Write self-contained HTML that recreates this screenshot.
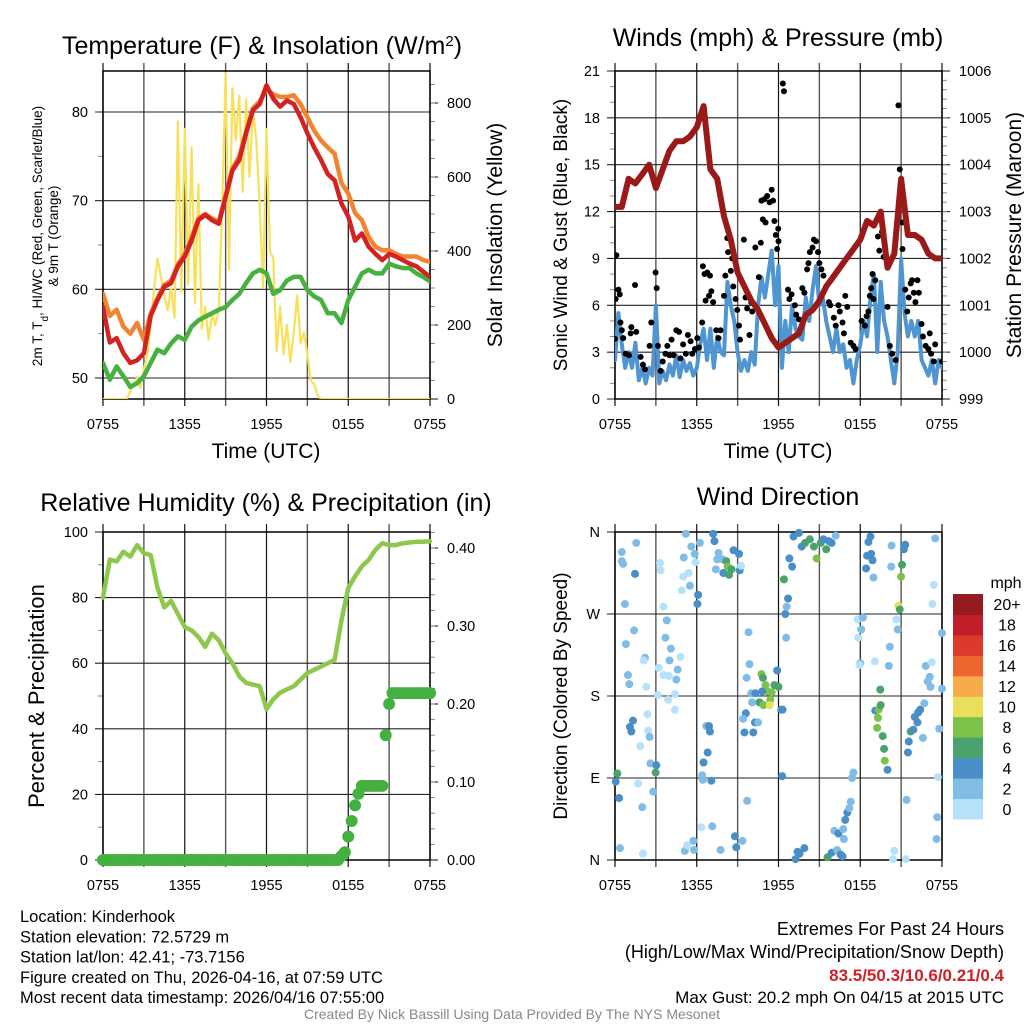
<!DOCTYPE html>
<html><head><meta charset="utf-8">
<style>
html,body{margin:0;padding:0;background:#fff;}
svg{display:block;font-family:"Liberation Sans",Arial,sans-serif;}
</style></head>
<body>
<svg id="c" width="1024" height="1024" viewBox="0 0 1024 1024"></svg>
<script>
// ---------- DATA ----------
const xTickLabels = ["0755","1355","1955","0155","0755"];
const tempRed = [58,54,54.5,52.8,51.7,52,52.8,57,58.8,60.3,60.7,62.6,63.7,65.5,67.8,68.4,67.8,67.4,70.4,73.4,74.6,77.6,80.2,80.9,83,81.5,80.6,81.3,80.9,79.4,77.6,76,74.6,73,72.3,69.7,68.2,65.5,66.3,64.8,64,63.3,64,63.7,63.3,62.9,62.6,62,61.4];
const temp9m = [59.5,57,57.7,55.8,55,56.2,54.3,57.3,59,60.5,61,62.8,64,65.8,68,68.5,68,67.6,70.6,73.6,75,77.8,80.4,81.2,82.5,82,81.7,81.7,81.9,80.9,79.4,77.9,76.8,76,75.3,72,70.8,68.6,67.8,65.9,64.8,64.4,64.4,64,63.7,63.7,63.7,63.3,63.1];
const dewGreen = [51.7,49.8,51.3,50.2,49,49.4,50.2,51.7,53.2,52.8,53.9,54.7,54.3,55.8,56.5,56.9,57.3,57.7,58,58.8,59.5,60.7,61.8,62.2,61.8,59.5,59.9,61,61.4,61.4,59.9,59.2,58.8,57.3,57.3,56.2,58.8,60.3,61.8,62.2,61.8,61.8,62.9,62.6,62.4,62.4,61.8,61.4,60.9];
const solar = [0,0,0,0,0,0,0,0,
20,40,60,30,80,120,200,300,380,330,
280,240,300,220,750,290,730,310,680,260,
580,190,250,160,230,200,240,520,880,350,
840,700,820,560,810,600,780,700,520,300,
730,400,380,130,250,120,200,100,180,280,
150,180,120,50,40,10,0,
0,0,0,0,0,0,0,0,0,0,0,0,0,0,0,0,
0,0,0,0,0,0,0,0,0,0,0,0,0,0,0,0];
const pressure = [1003.1,1003.1,1003.7,1003.6,1003.8,1004.0,1003.5,1003.9,1004.3,1004.5,1004.5,1004.6,1004.8,1005.25,1003.9,1003.7,1002.9,1002.4,1001.7,1001.4,1001.1,1000.9,1000.6,1000.3,1000.1,1000.2,1000.3,1000.4,1000.8,1000.9,1001.1,1001.4,1001.6,1001.8,1002.0,1002.2,1002.4,1002.8,1002.7,1003.0,1001.8,1002.1,1003.7,1002.5,1002.5,1002.4,1002.1,1002.0,1002.0];
const wind = [2.5,5.5,3.5,2, 3,2,3.6,1.2, 2,1.0,2.0,1.5, 6.0,1.0,1.8,1.2, 2.2,1.5,2.8,1.4, 2.5,1.8,2.3,1.5, 2.0,3.5,4.5,2.5, 4.5,2.0,4.0,3.0, 2.8,7.5,6.0,5.0, 3.0,1.8,2.5,1.8, 3.0,2.2,6.0,7.8, 6.5,8.0,9.5,6.0, 8.5,2.0,5.0,3.0, 6.0,4.5,4.0,3.8, 6.5,5.0,7.0,8.5, 6.0,6.5,5.0,4.0, 3.0,4.5,3.0,3.5, 2.0,2.5,1.0,2.5, 3.5,5.0,4.0,6.5, 8.0,3.0,7.5,5.0, 4.0,2.5,1.0,3.0, 9.0,5.5,4.0,5.0, 4.0,5.0,2.5,2.0, 1.5,2.5,1.0,2.5, 2.0];
const gustHours = [0,0.05,0.1,0.25,0.35,0.4,0.5,0.6,0.78,1.03,1.15,1.2,1.47,1.56,1.88,2.05,2.2,2.54,2.66,2.98,3.06,3.15,3.35,3.5,3.7,3.84,4.0,4.15,4.3,4.5,4.7,4.8,5.0,5.2,5.35,5.55,5.67,5.87,6.04,6.16,6.4,6.45,6.57,6.65,6.77,6.9,6.97,7.07,7.2,7.43,7.6,7.75,8,8.1,8.24,8.3,8.5,8.6,8.68,8.85,8.97,9.1,9.17,9.46,9.58,9.7,9.87,10.0,10.07,10.3,10.56,10.7,10.75,10.85,10.97,11.05,11.17,11.35,11.5,11.6,11.7,11.8,11.98,12.0,11.9,12.32,12.4,12.7,12.8,12.96,13.2,13.3,13.5,13.75,13.9,14.1,14.2,14.3,14.5,14.6,14.75,14.9,15.0,15.15,15.3,15.5,15.7,15.8,16.06,16.2,16.4,16.5,16.7,16.8,16.9,17.05,17.3,17.5,17.65,18.1,18.35,18.47,18.6,18.7,18.8,18.9,18.97,19.1,19.3,19.4,19.6,19.72,20,20.17,20.34,20.6,20.8,20.9,21.07,21.1,21.3,21.45,21.56,21.7,21.8,21.93,22.05,22.2,22.3,22.5,22.6,22.8,23.0,23.1,23.2,23.4,23.5,24];
const gustSpeeds = [3.85,6.4,9.2,7,6.7,4.9,4.4,3.9,2.9,2.8,4.2,4.6,7.3,4.3,2.7,2.2,1.9,3.4,4.9,8.1,7.1,3.4,1.8,2.4,2.9,3.4,2.8,3.8,2.8,4.4,4.3,2.6,3.5,2.9,4.1,3.7,2.9,3.2,3.9,3.3,4.9,8.5,8,6.3,8.1,6.6,7.9,6.9,6.2,4.4,3.9,4.4,6.6,7.9,10.3,9.4,8.2,9.0,7.2,6.4,5.7,4.7,3.8,10.2,6.5,5.8,4.1,6.2,5.6,9.7,7.8,10,12.7,11.5,12.8,11.3,13,12.6,13.4,12.7,11.4,10.5,10.9,10.1,9.6,20.2,19.7,7.0,6.4,6.7,6.0,5.4,5.1,7.1,6.8,8.3,8.7,9.4,9.7,10.2,10.1,9.4,8.7,8.3,7.9,7.2,6.2,6.0,5.2,4.7,6.0,5.6,4.9,4.2,6.6,5.9,3.6,3.4,3.2,5.0,4.7,5.3,5.6,6.6,7.1,8.0,6.4,7.6,10.4,9.5,10.7,9.1,5.9,3.4,2.9,2.5,18.8,14.7,11.3,9.6,7.0,5.6,6.5,7.4,7.6,6.8,6.2,7.6,6.8,4.8,4.0,3.4,3.2,4.2,2.9,2.4,3.5,2.4];
const rh = [80,91.6,91,94,92.5,96,93.5,93,83,77,79,75,71,70,68,65,69,67,63,60,56,54,53.5,53,46,49,51,52,53,55,57,58,59,60,61,73,83,86.5,89.5,91.5,94.6,96.6,96,96,96.6,96.8,97,97,97.2];
const precip = [0,0,0,0,0,0,0,0,0,0, 0,0,0,0,0,0,0,0,0,0, 0,0,0,0,0,0,0,0,0,0, 0,0,0,0,0,0,0,0,0,0, 0,0,0,0,0,0,0,0,0,0, 0,0,0,0,0,0,0,0,0,0, 0,0,0,0,0,0,0,0,0,0,
0.005,0.01,0.03,0.05,0.07,0.085,0.095,0.095,0.095,0.095, 0.095,0.095,0.095,0.16,0.20,0.214,0.214,0.214,0.214,0.214, 0.214,0.214,0.214,0.214,0.214,0.214,0.214];
const dirHours = [0.5,0.5,0.6,1.56,1.47,0.73,1.4,0.8,0.95,1.05,1.32,1.1,1.2,1.86,0.17,0.05,0.3,0.37,1.7,2,2.05,2.2,2.1,2.3,2.37,2.44,2.54,2.6,3.03,2.98,2.8,3.3,3.35,3.55,3.8,3.7,4.1,4.0,4.8,3.2,3.55,3.95,4.5,4.6,3.15,3.9,4.4,4.4,4.9,5,5.05,5.4,5.5,5.2,5.6,5.85,5.9,6.1,6.05,6.23,5.13,5.3,5.75,5.8,6.33,7.14,6.4,6.45,7.07,6.5,6.8,6.7,6.9,6.97,7.2,7.3,7.6,7.5,7.4,7.9,8.17,8.27,7.95,8.37,8.55,8.7,9.1,9.15,9.25,7.75,8.8,8.9,9.35,9.8,9.7,9.87,9.66,10.75,10.86,11.05,11.2,11.5,11.7,12.0,10.8,10.6,10.9,11.4,11.36,11.9,10.0,10.3,10.06,9.6,9.4,9.5,10.15,10.27,10.5,12.2,12.3,12.27,12.4,12.56,12.5,12.6,12.7,12.8,13,13.1,13.5,13.7,13.95,14.3,14.6,14.8,15.1,15.3,15.5,15.7,15.9,16.2,13.25,13.4,13.55,13.9,15.6,15.9,16.3,16.55,16.7,16.1,16.4,16.8,16.75,16.9,17.05,17.2,17.3,17.4,17.5,17.8,18.2,18.07,17.85,18,17.95,18.43,18.5,18.6,18.75,18.8,18.9,18.97,19.1,19.35,19.5,19.47,19.3,19.24,19.65,19.75,19.8,20,19.07,20.1,20.17,20.3,20.27,20.65,20.75,20.8,20.9,21,21.07,21.2,21.3,21.4,21.35,20.5,20.4,21.56,21.5,21.7,21.9,22,22.2,22.25,22.4,22.7,22.6,22.8,23.25,22.95,23.1,23.15,23.4,23.3,23.5,24,24,23.8,23.7,23.65,23.6];
const dirDegrees = [338,328,325,348,314,281,252,237,203,193,153,146,141,125,95,86,68,13,84,58,7,222,219,190,160,142,135,106,104,96,75,326,318,278,263,244,232,219,223,211,203,202,198,209,181,176,182,165,296,311,332,315,301,358,344,336,327,291,281,348,10,16,21,11,36,37,93,88,87,107,118,147,147,141,358,350,337,330,319,330,328,322,315,313,319,340,336,318,323,11,26,14,21,250,65,215,200,204,200,192,185,184,192,190,185,173,170,176,170,208,183,183,173,161,155,140,140,151,151,165,165,92,308,244,270,278,287,331,322,355,359,344,348,352,344,331,348,352,341,350,348,356,1,9,7,13,3,8,11,6,4,32,29,23,34,44,52,57,64,90,96,264,266,253,244,216,214,320,334,349,355,336,329,310,164,165,170,187,156,145,136,122,109,99,218,213,234,345,322,264,253,279,275,311,324,341,346,66,1,10,1,130,118,141,143,157,151,162,165,172,134,213,217,196,201,190,302,281,353,249,188,144,91,47,23];
const dirSpeeds = [2,2,2,2,4,2,2,2,2,2,4,4,4,0,6,4,4,2,0,2,0,2,0,0,0,0,2,2,4,6,2,0,0,0,2,2,2,2,0,0,0,0,2,2,0,0,0,0,0,0,2,0,2,2,2,2,0,4,4,2,2,0,2,2,0,2,2,2,4,4,4,2,4,4,4,4,2,2,2,2,6,8,4,6,6,4,4,4,0,2,4,4,2,2,2,2,2,8,6,8,8,8,6,6,4,6,8,8,10,4,2,4,2,4,2,4,4,4,2,4,4,4,6,2,4,2,4,4,4,4,4,4,6,6,6,8,6,4,6,4,4,2,4,4,4,4,6,4,2,4,4,2,4,2,2,4,4,2,2,2,2,0,2,2,0,2,0,4,4,4,4,4,4,2,4,8,6,6,8,8,6,6,8,4,0,2,2,2,2,0,2,10,6,8,6,4,4,2,0,0,0,4,4,6,4,4,4,4,4,2,2,2,0,2,2,2,0,0,2,2,2,2,0,2,2];
const cbLabels = ["0","2","4","6","8","10","12","14","16","18","20+"];
const cbColors = ["#b5e2f8","#80bce6","#4a8ec8","#4aa36c","#7cc24a","#e8e05a","#f6aa4a","#ef6530","#dc3a2c","#c01f27","#961b1e"];

// ---------- HELPERS ----------
const NS = "http://www.w3.org/2000/svg";
const svg = document.getElementById("c");
function mk(tag, attrs, parent){
  const e = document.createElementNS(NS, tag);
  for (const k in attrs) e.setAttribute(k, attrs[k]);
  (parent||svg).appendChild(e);
  return e;
}
function lin(d0,d1,r0,r1){ return v => r0 + (v-d0)/(d1-d0)*(r1-r0); }
function txt(s, x, y, size, anchor, parent, extra){
  const t = mk("text", Object.assign({x:x,y:y,"font-size":size,"text-anchor":anchor||"middle",fill:"#000"}, extra||{}), parent);
  t.textContent = s;
  return t;
}

function panel(name, x0, x1, y0, y1, leftTicks, leftScale, leftLabels, rightTicks, rightScale, rightLabels, leftMinor, rightMinor){
  const g = mk("g", {});
  
  
  const xs = lin(0,24,x0,x1);
  for (let i=0;i<=8;i++){
    const x = xs(i*3);
    const l = mk("line",{x1:x,x2:x,y1:y0-8,y2:y1+7,stroke:i%2? "#555":"#111","stroke-width":i%2?1.4:1.2}, g);
    
    
  }
  xTickLabels.forEach((s,i)=>{
    const t = txt(s, xs(i*6), y1+30, 14.5, "middle", g);
    
    
  });
  leftTicks.forEach((v,i)=>{
    const y = leftScale(v);
    const l = mk("line",{x1:x0-8,x2:x1,y1:y,y2:y,stroke:"#222","stroke-width":1.1}, g);
    
    
    const t = txt(leftLabels[i], x0-15, y+5, 14.5, "end", g);
    
    
  });
  (leftMinor||[]).forEach(v=>{
    const y = leftScale(v);
    const l = mk("line",{x1:x0-5,x2:x0,y1:y,y2:y,stroke:"#888","stroke-width":1}, g);
    
    
  });
  (rightTicks||[]).forEach((v,i)=>{
    const y = rightScale(v);
    const l = mk("line",{x1:x1,x2:x1+8,y1:y,y2:y,stroke:"#222","stroke-width":1.1}, g);
    
    
    const t = txt(rightLabels[i], x1+17, y+5, 14.5, "start", g);
    
    
  });
  (rightMinor||[]).forEach(v=>{
    const y = rightScale(v);
    const l = mk("line",{x1:x1,x2:x1+5,y1:y,y2:y,stroke:"#888","stroke-width":1}, g);
    
    
  });
  const f = mk("rect",{x:x0,y:y0,width:x1-x0,height:y1-y0,fill:"none",stroke:"#000","stroke-width":1.5}, g);
  
  
  return {g, xs};
}
function seriesLine(name, arr, step, xs, ys, color, w, parent){
  const pts = arr.map((v,i)=> xs(i*step).toFixed(1)+","+ys(v).toFixed(1)).join(" ");
  const p = mk("polyline",{points:pts,fill:"none",stroke:color,"stroke-width":w,"stroke-linejoin":"round","stroke-linecap":"round"}, parent);
  
  
  return p;
}
function range(a,b,s){ const r=[]; for(let v=a; v<=b+1e-9; v+=s) r.push(+v.toFixed(4)); return r; }

// ---------- PANEL 1 ----------
{
  const yL = lin(50,80,378,112), yR = lin(0,800,399,103);
  const lt=[50,60,70,80], rt=[0,200,400,600,800];
  const p = panel("temperature-panel",103,430,71,399, lt,yL,lt.map(String), rt,yR,rt.map(String), [55,65,75], range(50,850,50));
  const clip = mk("clipPath",{id:"cp1"}); mk("rect",{x:103,y:71,width:327,height:328},clip);
  const g = mk("g",{"clip-path":"url(#cp1)"}, p.g);
  seriesLine("solar-insolation-line", solar, 0.25, p.xs, yR, "#f8e05a", 2.2, g);
  seriesLine("dewpoint-line", dewGreen, 0.5, p.xs, yL, "#46b040", 4.5, g);
  seriesLine("temp-9m-line", temp9m, 0.5, p.xs, yL, "#f18430", 4.5, g);
  seriesLine("temp-2m-line", tempRed, 0.5, p.xs, yL, "#d42222", 4.5, g);
  const t = txt("Temperature (F) & Insolation (W/m", 262, 54, 25, "middle");
  const sup = mk("tspan",{"baseline-shift":"super","font-size":15}, t); sup.textContent="2";
  const cl = mk("tspan",{}, t); cl.textContent=")";
  
  
  const a = txt("2m T, T", 0, 0, 13.5, "middle", null, {transform:"translate(42,236) rotate(-90)"});
  const sb = mk("tspan",{"baseline-shift":"sub","font-size":10}, a); sb.textContent="d";
  const rest = mk("tspan",{}, a); rest.textContent=", HI/WC (Red, Green, Scarlet/Blue)";
  
  
  const a2 = txt("& 9m T (Orange)", 0, 0, 13.5, "middle", null, {transform:"translate(58,236) rotate(-90)"});
  
  
  const r = txt("Solar Insolation (Yellow)", 0, 0, 21, "middle", null, {transform:"translate(502,235) rotate(-90)"});
  
  
  const x = txt("Time (UTC)", 266, 458, 21, "middle");
  
  
}
// ---------- PANEL 2 ----------
{
  const yL = lin(0,21,399,71), yR = lin(999,1006,399,71);
  const lt=[0,3,6,9,12,15,18,21], rt=[999,1000,1001,1002,1003,1004,1005,1006];
  const p = panel("wind-pressure-panel",615,942,71,399, lt,yL,lt.map(String), rt,yR,rt.map(String), range(1,20,1).filter(v=>v%3), range(999.2,1005.8,0.2));
  const clip = mk("clipPath",{id:"cp2"}); mk("rect",{x:615,y:71,width:327,height:328},clip);
  const g = mk("g",{"clip-path":"url(#cp2)"}, p.g);
  seriesLine("sonic-wind-line", wind, 0.25, p.xs, yL, "#4f95d2", 4, g);
  gustHours.forEach((h,i)=>{
    const c = mk("circle",{cx:p.xs(h),cy:yL(gustSpeeds[i]),r:3,fill:"#000"}, g);
    
    
  });
  seriesLine("station-pressure-line", pressure, 0.5, p.xs, yR, "#9a1a1a", 6, g);
  const t = txt("Winds (mph) & Pressure (mb)", 778, 46, 25, "middle");
  
  
  const a = txt("Sonic Wind & Gust (Blue, Black)", 0, 0, 19, "middle", null, {transform:"translate(567,235) rotate(-90)"});
  
  
  const r = txt("Station Pressure (Maroon)", 0, 0, 21, "middle", null, {transform:"translate(1021,235) rotate(-90)"});
  
  
  const x = txt("Time (UTC)", 778, 458, 21, "middle");
  
  
}
// ---------- PANEL 3 ----------
{
  const yL = lin(0,100,860,532), yR = lin(0,0.4,860,548);
  const lt=[0,20,40,60,80,100], rt=[0,0.1,0.2,0.3,0.4];
  const p = panel("humidity-precip-panel",103,430,532,860, lt,yL,lt.map(String), rt,yR,rt.map(v=>v.toFixed(2)), [10,30,50,70,90], range(0.02,0.42,0.02));
  const g = mk("g",{}, p.g);
  seriesLine("relative-humidity-line", rh, 0.5, p.xs, yL, "#8dc84c", 4.5, g);
  precip.forEach((v,i)=>{
    const c = mk("circle",{cx:p.xs(i*0.25),cy:yR(v),r:6,fill:"#44b040"}, g);
    
    
  });
  const t = txt("Relative Humidity (%) & Precipitation (in)", 266, 511, 25, "middle");
  
  
  const a = txt("Percent & Precipitation", 0, 0, 22, "middle", null, {transform:"translate(44,696) rotate(-90)"});
  
  
}
// ---------- PANEL 4 ----------
{
  const yD = lin(0,360,860,532);
  const lt=[0,90,180,270,360];
  const p = panel("wind-direction-panel",615,942,532,860, lt,yD,["N","E","S","W","N"], [],null,[]);
  const g = mk("g",{}, p.g);
  dirHours.forEach((h,i)=>{
    if (dirDegrees[i] === undefined) return;
    const sp = dirSpeeds[i] === undefined ? 2 : dirSpeeds[i];
    const idx = Math.min(10, Math.floor(sp/2));
    const c = mk("circle",{cx:p.xs(h),cy:yD(dirDegrees[i]),r:4,fill:cbColors[idx]}, g);
    
    
  });
  const t = txt("Wind Direction", 778, 505, 25, "middle");
  
  
  const a = txt("Direction (Colored By Speed)", 0, 0, 19, "middle", null, {transform:"translate(567,696) rotate(-90)"});
  
  
  const cb = mk("g",{});
  
  
  const bh = (819-594)/11;
  cbColors.forEach((col,i)=>{
    const y = 819 - (i+1)*bh;
    const r = mk("rect",{x:953,y:y,width:30,height:bh+0.5,fill:col}, cb);
    
    
    const l = txt(cbLabels[i], 1007, y+bh/2+6, 16, "middle", cb);
    
    
  });
  const u = txt("mph", 1006, 588, 16, "middle", cb);
  
  
}
// ---------- FOOTER ----------
{
  const info = ["Location: Kinderhook","Station elevation: 72.5729 m","Station lat/lon: 42.41; -73.7156","Figure created on Thu, 2026-04-16, at 07:59 UTC","Most recent data timestamp: 2026/04/16 07:55:00"];
  info.forEach((s,i)=>{
    const t = txt(s, 20, 922+i*20.3, 16.5, "start");
    
    
  });
  const e1 = txt("Extremes For Past 24 Hours", 1004, 935, 18, "end");
  
  
  const e2 = txt("(High/Low/Max Wind/Precipitation/Snow Depth)", 1004, 958, 18, "end");
  
  
  const e3 = txt("83.5/50.3/10.6/0.21/0.4", 1004, 981, 17, "end", null, {fill:"#d02028","font-weight":"bold"});
  
  
  const e4 = txt("Max Gust: 20.2 mph On 04/15 at 2015 UTC", 1004, 1003, 17, "end");
  
  
  const cr = txt("Created By Nick Bassill Using Data Provided By The NYS Mesonet", 512, 1019, 14, "middle", null, {fill:"#888"});
  
  
}
</script>
</body></html>
